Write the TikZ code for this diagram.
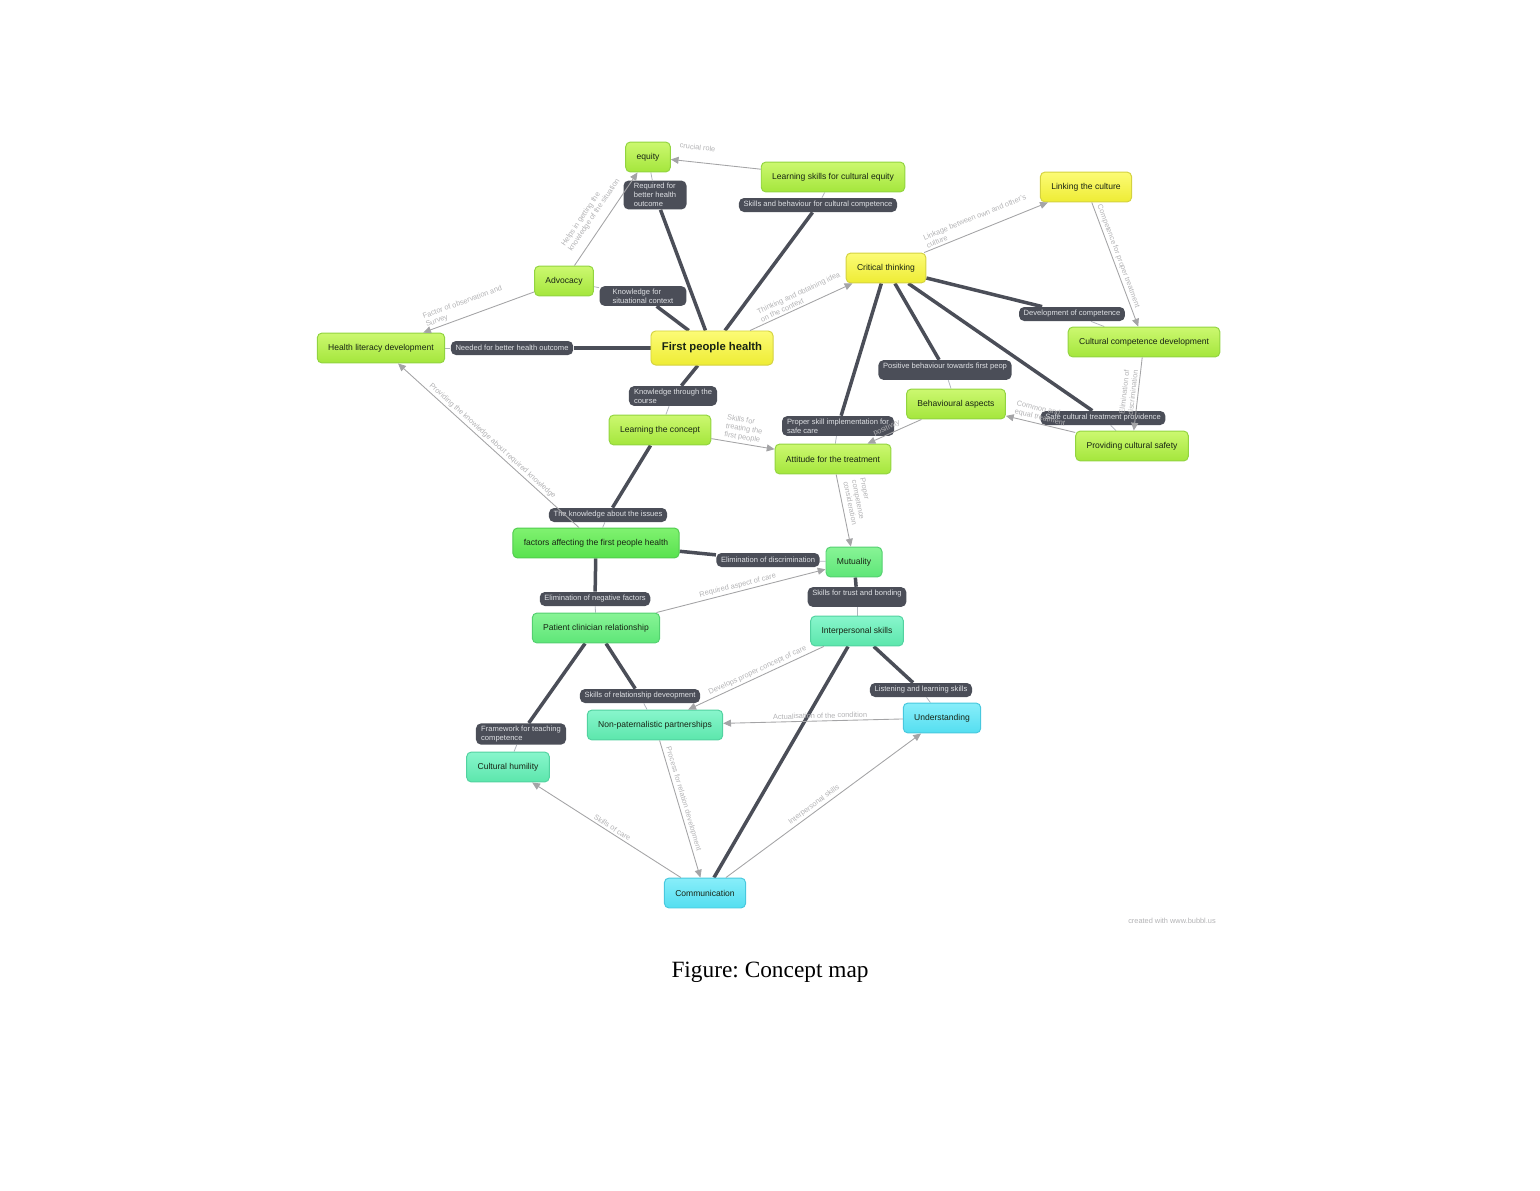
\documentclass[tikz,border=0pt]{standalone}
\usepackage{fontspec}
\setmainfont{Liberation Sans}
\newfontfamily\captionserif{Liberation Serif}
\usepackage{xcolor}
\usetikzlibrary{arrows.meta, backgrounds}
\definecolor{limetop}{RGB}{204,248,112}
\definecolor{limebot}{RGB}{164,230,60}
\definecolor{limeline}{RGB}{146,212,64}
\definecolor{yellowtop}{RGB}{252,251,118}
\definecolor{yellowbot}{RGB}{238,236,52}
\definecolor{yellowline}{RGB}{212,210,64}
\definecolor{greentop}{RGB}{128,242,112}
\definecolor{greenbot}{RGB}{88,226,78}
\definecolor{greenline}{RGB}{80,204,78}
\definecolor{springtop}{RGB}{136,244,150}
\definecolor{springbot}{RGB}{94,230,120}
\definecolor{springline}{RGB}{84,208,112}
\definecolor{minttop}{RGB}{136,246,204}
\definecolor{mintbot}{RGB}{92,230,172}
\definecolor{mintline}{RGB}{82,210,160}
\definecolor{cyantop}{RGB}{136,238,250}
\definecolor{cyanbot}{RGB}{84,222,240}
\definecolor{cyanline}{RGB}{72,200,222}
\definecolor{tagfill}{RGB}{75,78,88}
\definecolor{tagtext}{RGB}{222,224,228}
\definecolor{stemgray}{RGB}{176,180,188}
\definecolor{linkgray}{RGB}{164,164,166}
\definecolor{linktextgray}{RGB}{178,178,180}
\definecolor{bubbletext}{RGB}{24,36,20}
\newcommand\mapnodefont{\fontsize{4.4}{5.3}\selectfont}
\newcommand\maprootfont{\fontsize{5.8}{7}\selectfont\bfseries}
\newcommand\maptagfont{\fontsize{3.9}{4.7}\selectfont}
\newcommand\maplinkfont{\fontsize{3.8}{4.4}\selectfont}
\tikzset{
  bubble/.style={rectangle, rounded corners=2.4pt, draw, line width=0.5pt,
    minimum height=15.4pt, inner xsep=5.6pt, align=center,
    text=bubbletext, font=\mapnodefont},
  limebubble/.style={bubble, top color=limetop, bottom color=limebot, draw=limeline},
  yellowbubble/.style={bubble, top color=yellowtop, bottom color=yellowbot, draw=yellowline},
  greenbubble/.style={bubble, top color=greentop, bottom color=greenbot, draw=greenline},
  springbubble/.style={bubble, top color=springtop, bottom color=springbot, draw=springline},
  mintbubble/.style={bubble, top color=minttop, bottom color=mintbot, draw=mintline},
  cyanbubble/.style={bubble, top color=cyantop, bottom color=cyanbot, draw=cyanline},
  tag/.style={rectangle, rounded corners=2.6pt, fill=tagfill, text=tagtext,
    inner xsep=2.4pt, inner ysep=1.3pt, minimum height=7.2pt, align=left,
    font=\maptagfont},
  branch/.style={line width=1.8pt, color=tagfill},
  stem/.style={line width=0.4pt, color=stemgray},
  link/.style={-{Triangle[length=4pt, width=3.6pt]}, line width=0.45pt, color=linkgray},
  linktext/.style={sloped, above=0.6pt, inner sep=0.5pt, text=linktextgray,
    font=\maplinkfont, align=left},
}

\begin{document}
\begin{tikzpicture}[x=0.5143pt, y=-0.5143pt]
  \useasboundingbox (0,0) rectangle (1540,1190);

  % bubbles
  \node[limebubble] (equity) at (648,157) {equity};
  \node[limebubble] (cultequity) at (833,177) {Learning skills for cultural equity};
  \node[yellowbubble] (linkcult) at (1086,187) {Linking the culture};
  \node[yellowbubble] (critthink) at (886,268) {Critical thinking};
  \node[limebubble] (advocacy) at (564,281) {Advocacy};
  \node[limebubble] (healthlit) at (381,348) {Health literacy development};
  \node[yellowbubble, font=\maprootfont, minimum height=17.5pt] (fph) at (712,348) {First people health};
  \node[limebubble] (cultcomp) at (1144,342) {Cultural competence development};
  \node[limebubble] (behave) at (956,404) {Behavioural aspects};
  \node[limebubble] (cultsafety) at (1132,446) {Providing cultural safety};
  \node[limebubble] (learnconc) at (660,430) {Learning the concept};
  \node[limebubble] (attitude) at (833,459) {Attitude for the treatment};
  \node[greenbubble] (factors) at (596,543) {factors affecting the first people health};
  \node[springbubble] (mutual) at (854,562) {Mutuality};
  \node[springbubble] (patclin) at (596,628) {Patient clinician relationship};
  \node[mintbubble] (interpers) at (857,631) {Interpersonal skills};
  \node[cyanbubble] (underst) at (942,718) {Understanding};
  \node[mintbubble] (nonpat) at (655,725) {Non-paternalistic partnerships};
  \node[mintbubble] (humility) at (508,767) {Cultural humility};
  \node[cyanbubble] (commun) at (705,893) {Communication};

  % tags on the branches
  \node[tag, minimum width=32.4pt] (tagbetter) at (655,195) {Required for\\better health\\outcome};
  \node[tag] (tagskills) at (818,205) {Skills and behaviour for cultural competence};
  \node[tag, minimum width=44.7pt] (tagsitu) at (643,296) {Knowledge for\\situational context};
  \node[tag] (tagneeded) at (512,348) {Needed for better health outcome};
  \node[tag, minimum width=45.3pt] (tagcourse) at (673,396) {Knowledge through the\\course};
  \node[tag] (tagissues) at (608,515) {The knowledge about the issues};
  \node[tag] (tagdiscr) at (768,560) {Elimination of discrimination};
  \node[tag] (tagneg) at (595,599) {Elimination of negative factors};
  \node[tag, minimum width=49.4pt] (tagtrust) at (857,597) {Skills for trust and bonding\\\mbox{}};
  \node[tag] (tagrel) at (640,696) {Skills of relationship deveopment};
  \node[tag, minimum width=46.3pt] (tagframe) at (521,734) {Framework for teaching\\competence};
  \node[tag] (taglisten) at (921,690) {Listening and learning skills};
  \node[tag] (tagpositive) at (945,370) {Positive behaviour towards first peop\\\mbox{}};
  \node[tag] (tagdevel) at (1072,314) {Development of competence};
  \node[tag] (tagsafe) at (1103,418) {Safe cultural treatment providence};
  \node[tag, minimum width=57.6pt] (tagproper) at (838,426) {Proper skill implementation for\\safe care};

  % branches
  \begin{scope}[on background layer]
    \draw[branch] (fph) -- (tagbetter);
    \draw[stem] (tagbetter) -- (equity);
    \draw[branch] (fph) -- (tagskills);
    \draw[stem] (tagskills) -- (cultequity);
    \draw[branch] (fph) -- (tagsitu);
    \draw[stem] (tagsitu) -- (advocacy);
    \draw[branch] (fph) -- (tagneeded);
    \draw[stem] (tagneeded) -- (healthlit);
    \draw[branch] (fph) -- (tagcourse);
    \draw[stem] (tagcourse) -- (learnconc);
    \draw[branch] (learnconc) -- (tagissues);
    \draw[stem] (tagissues) -- (factors);
    \draw[branch] (factors) -- (tagdiscr);
    \draw[stem] (tagdiscr) -- (mutual);
    \draw[branch] (factors) -- (tagneg);
    \draw[stem] (tagneg) -- (patclin);
    \draw[branch] (mutual) -- (tagtrust);
    \draw[stem] (tagtrust) -- (interpers);
    \draw[branch] (patclin) -- (tagrel);
    \draw[stem] (tagrel) -- (nonpat);
    \draw[branch] (patclin) -- (tagframe);
    \draw[stem] (tagframe) -- (humility);
    \draw[branch] (interpers) -- (taglisten);
    \draw[stem] (taglisten) -- (underst);
    \draw[branch] (interpers) -- (commun);
    \draw[branch] (critthink) -- (tagpositive);
    \draw[stem] (tagpositive) -- (behave);
    \draw[branch] (critthink) -- (tagdevel);
    \draw[stem] (tagdevel) -- (cultcomp);
    \draw[branch] (critthink) -- (tagsafe);
    \draw[stem] (tagsafe) -- (cultsafety);
    \draw[branch] (critthink) -- (tagproper);
    \draw[stem] (tagproper) -- (attitude);
  \end{scope}

  % cross links
  \draw[link] (cultequity) -- node[linktext, pos=0.72, above=5pt] (lblrole) {crucial role} (equity);
  \draw[link] (advocacy) -- node[linktext, pos=0.47, above=3pt] (lblhelps) {Helps in getting the\\knowledge of the situation} (equity);
  \draw[link] (advocacy) -- node[linktext, pos=0.6] (lblfactor) {Factor of observation and\\Survey} (healthlit);
  \draw[link] (fph) -- node[linktext, pos=0.53] (lblthink) {Thinking and obtaining idea\\on the context} (critthink);
  \draw[link] (critthink) -- node[linktext, pos=0.45] (lbllinkage) {Linkage between own and other's\\culture} (linkcult);
  \draw[link] (linkcult) -- node[linktext, pos=0.45] (lblcompet) {Competence for proper treatment} (cultcomp);
  \draw[link] (cultcomp) -- node[linktext, pos=0.49] (lblelim) {Elimination of\\discrimination} (cultsafety);
  \draw[link] (cultsafety) -- node[linktext, pos=0.53] (lblcommon) {Common and\\equal treatment} (behave);
  \draw[link] (behave) -- node[linktext, pos=0.6] (lblposit) {positivity} (attitude);
  \draw[link] (learnconc) -- node[linktext, pos=0.48] (lbltreat) {Skills for\\treating the\\first people} (attitude);
  \draw[link] (attitude) -- node[linktext, pos=0.42, above=1.5pt] (lblproper) {Proper\\competence\\consideration} (mutual);
  \draw[link] (factors) -- node[linktext, pos=0.5] (lblprov) {Providing the knowledge about required knowledge} (healthlit);
  \draw[link] (patclin) -- node[linktext, pos=0.49] (lblaspect) {Required aspect of care} (mutual);
  \draw[link] (interpers) -- node[linktext, pos=0.47] (lbldevelops) {Develops proper concept of care} (nonpat);
  \draw[link] (underst) -- node[linktext, pos=0.46] (lblactual) {Actualisation of the condition} (nonpat);
  \draw[link] (nonpat) -- node[linktext, pos=0.44] (lblprocess) {Process for relation development} (commun);
  \draw[link] (commun) -- node[linktext, pos=0.48] (lblcare) {Skills of care} (humility);
  \draw[link] (commun) -- node[linktext, pos=0.47] (lblinter) {Interpersonal skills} (underst);

  \node[text=linktextgray, font=\maplinkfont] (credit) at (1172,921) {created with www.bubbl.us};
  \node[font=\captionserif\fontsize{12}{14}\selectfont] (caption) at (770,972) {Figure:\ Concept map};
\end{tikzpicture}
\end{document}
